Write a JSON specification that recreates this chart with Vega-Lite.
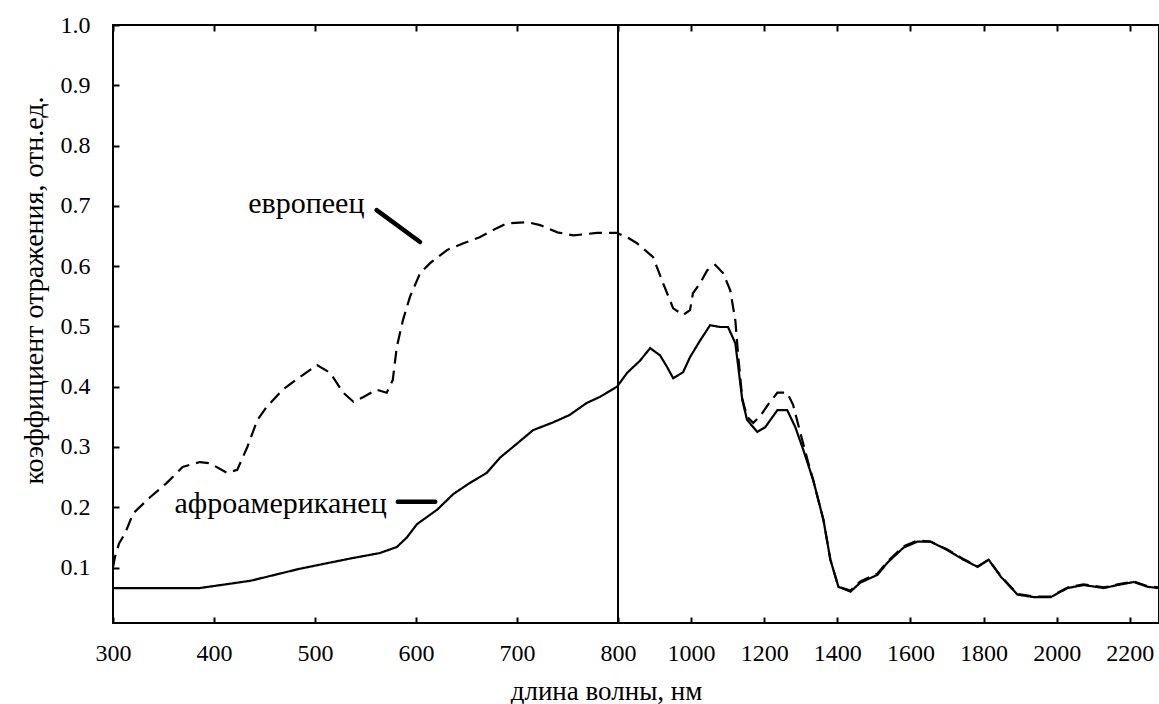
{
  "$schema": "https://vega.github.io/schema/vega-lite/v6.json",
  "width": 1046,
  "height": 598,
  "autosize": {"type": "none"},
  "padding": {"left": 113, "top": 25, "right": 0, "bottom": 81},
  "background": "white",
  "config": {
    "view": {"stroke": "black", "strokeWidth": 2},
    "axis": {
      "domain": false,
      "grid": false,
      "labelFont": "Liberation Serif",
      "labelFontSize": 24,
      "labelColor": "black",
      "labelFlush": false,
      "labelOverlap": false,
      "tickColor": "black",
      "tickWidth": 2,
      "tickSize": -6,
      "titleFont": "Liberation Serif",
      "titleFontWeight": "normal",
      "titleColor": "black"
    }
  },
  "datasets": {
    "curves": [
      {"wl": 300, "r": 0.10, "s": "европеец"},
      {"wl": 302, "r": 0.118, "s": "европеец"},
      {"wl": 306, "r": 0.14, "s": "европеец"},
      {"wl": 312, "r": 0.157, "s": "европеец"},
      {"wl": 320, "r": 0.19, "s": "европеец"},
      {"wl": 337, "r": 0.217, "s": "европеец"},
      {"wl": 353, "r": 0.24, "s": "европеец"},
      {"wl": 369, "r": 0.267, "s": "европеец"},
      {"wl": 386, "r": 0.275, "s": "европеец"},
      {"wl": 396, "r": 0.273, "s": "европеец"},
      {"wl": 413, "r": 0.257, "s": "европеец"},
      {"wl": 423, "r": 0.262, "s": "европеец"},
      {"wl": 433, "r": 0.30, "s": "европеец"},
      {"wl": 443, "r": 0.345, "s": "европеец"},
      {"wl": 452, "r": 0.366, "s": "европеец"},
      {"wl": 468, "r": 0.395, "s": "европеец"},
      {"wl": 485, "r": 0.416, "s": "европеец"},
      {"wl": 502, "r": 0.436, "s": "европеец"},
      {"wl": 515, "r": 0.423, "s": "европеец"},
      {"wl": 528, "r": 0.39, "s": "европеец"},
      {"wl": 538, "r": 0.375, "s": "европеец"},
      {"wl": 548, "r": 0.383, "s": "европеец"},
      {"wl": 561, "r": 0.395, "s": "европеец"},
      {"wl": 571, "r": 0.39, "s": "европеец"},
      {"wl": 577, "r": 0.411, "s": "европеец"},
      {"wl": 581, "r": 0.466, "s": "европеец"},
      {"wl": 587, "r": 0.51, "s": "европеец"},
      {"wl": 594, "r": 0.549, "s": "европеец"},
      {"wl": 604, "r": 0.588, "s": "европеец"},
      {"wl": 614, "r": 0.605, "s": "европеец"},
      {"wl": 631, "r": 0.627, "s": "европеец"},
      {"wl": 647, "r": 0.638, "s": "европеец"},
      {"wl": 663, "r": 0.648, "s": "европеец"},
      {"wl": 680, "r": 0.663, "s": "европеец"},
      {"wl": 690, "r": 0.671, "s": "европеец"},
      {"wl": 710, "r": 0.673, "s": "европеец"},
      {"wl": 723, "r": 0.668, "s": "европеец"},
      {"wl": 740, "r": 0.656, "s": "европеец"},
      {"wl": 756, "r": 0.651, "s": "европеец"},
      {"wl": 779, "r": 0.655, "s": "европеец"},
      {"wl": 799, "r": 0.655, "s": "европеец"},
      {"wl": 825, "r": 0.648, "s": "европеец"},
      {"wl": 852, "r": 0.638, "s": "европеец"},
      {"wl": 896, "r": 0.615, "s": "европеец"},
      {"wl": 923, "r": 0.572, "s": "европеец"},
      {"wl": 951, "r": 0.53, "s": "европеец"},
      {"wl": 978, "r": 0.519, "s": "европеец"},
      {"wl": 997, "r": 0.527, "s": "европеец"},
      {"wl": 1005, "r": 0.555, "s": "европеец"},
      {"wl": 1025, "r": 0.572, "s": "европеец"},
      {"wl": 1044, "r": 0.593, "s": "европеец"},
      {"wl": 1066, "r": 0.602, "s": "европеец"},
      {"wl": 1088, "r": 0.588, "s": "европеец"},
      {"wl": 1107, "r": 0.56, "s": "европеец"},
      {"wl": 1121, "r": 0.51, "s": "европеец"},
      {"wl": 1129, "r": 0.45, "s": "европеец"},
      {"wl": 1140, "r": 0.38, "s": "европеец"},
      {"wl": 1153, "r": 0.35, "s": "европеец"},
      {"wl": 1170, "r": 0.34, "s": "европеец"},
      {"wl": 1190, "r": 0.352, "s": "европеец"},
      {"wl": 1210, "r": 0.37, "s": "европеец"},
      {"wl": 1236, "r": 0.39, "s": "европеец"},
      {"wl": 1263, "r": 0.39, "s": "европеец"},
      {"wl": 1279, "r": 0.37, "s": "европеец"},
      {"wl": 1299, "r": 0.323, "s": "европеец"},
      {"wl": 1320, "r": 0.275, "s": "европеец"},
      {"wl": 1334, "r": 0.245, "s": "европеец"},
      {"wl": 1362, "r": 0.179, "s": "европеец"},
      {"wl": 1381, "r": 0.113, "s": "европеец"},
      {"wl": 1403, "r": 0.068, "s": "европеец"},
      {"wl": 1436, "r": 0.062, "s": "европеец"},
      {"wl": 1463, "r": 0.077, "s": "европеец"},
      {"wl": 1510, "r": 0.09, "s": "европеец"},
      {"wl": 1537, "r": 0.11, "s": "европеец"},
      {"wl": 1581, "r": 0.135, "s": "европеец"},
      {"wl": 1619, "r": 0.145, "s": "европеец"},
      {"wl": 1655, "r": 0.143, "s": "европеец"},
      {"wl": 1701, "r": 0.13, "s": "европеец"},
      {"wl": 1745, "r": 0.114, "s": "европеец"},
      {"wl": 1784, "r": 0.102, "s": "европеец"},
      {"wl": 1814, "r": 0.113, "s": "европеец"},
      {"wl": 1847, "r": 0.086, "s": "европеец"},
      {"wl": 1893, "r": 0.056, "s": "европеец"},
      {"wl": 1937, "r": 0.052, "s": "европеец"},
      {"wl": 1984, "r": 0.052, "s": "европеец"},
      {"wl": 2030, "r": 0.067, "s": "европеец"},
      {"wl": 2074, "r": 0.072, "s": "европеец"},
      {"wl": 2129, "r": 0.067, "s": "европеец"},
      {"wl": 2167, "r": 0.072, "s": "европеец"},
      {"wl": 2211, "r": 0.077, "s": "европеец"},
      {"wl": 2249, "r": 0.069, "s": "европеец"},
      {"wl": 2279, "r": 0.067, "s": "европеец"},
      {"wl": 300, "r": 0.066, "s": "афроамериканец"},
      {"wl": 386, "r": 0.066, "s": "афроамериканец"},
      {"wl": 436, "r": 0.078, "s": "афроамериканец"},
      {"wl": 485, "r": 0.098, "s": "афроамериканец"},
      {"wl": 535, "r": 0.115, "s": "афроамериканец"},
      {"wl": 564, "r": 0.124, "s": "афроамериканец"},
      {"wl": 581, "r": 0.134, "s": "афроамериканец"},
      {"wl": 591, "r": 0.15, "s": "афроамериканец"},
      {"wl": 601, "r": 0.172, "s": "афроамериканец"},
      {"wl": 621, "r": 0.196, "s": "афроамериканец"},
      {"wl": 637, "r": 0.222, "s": "афроамериканец"},
      {"wl": 653, "r": 0.24, "s": "афроамериканец"},
      {"wl": 670, "r": 0.257, "s": "афроамериканец"},
      {"wl": 683, "r": 0.282, "s": "афроамериканец"},
      {"wl": 696, "r": 0.30, "s": "афроамериканец"},
      {"wl": 716, "r": 0.328, "s": "афроамериканец"},
      {"wl": 736, "r": 0.341, "s": "афроамериканец"},
      {"wl": 752, "r": 0.353, "s": "афроамериканец"},
      {"wl": 769, "r": 0.373, "s": "афроамериканец"},
      {"wl": 782, "r": 0.383, "s": "афроамериканец"},
      {"wl": 799, "r": 0.40, "s": "афроамериканец"},
      {"wl": 825, "r": 0.423, "s": "афроамериканец"},
      {"wl": 860, "r": 0.443, "s": "афроамериканец"},
      {"wl": 888, "r": 0.464, "s": "афроамериканец"},
      {"wl": 915, "r": 0.452, "s": "афроамериканец"},
      {"wl": 934, "r": 0.433, "s": "афроамериканец"},
      {"wl": 951, "r": 0.414, "s": "афроамериканец"},
      {"wl": 978, "r": 0.424, "s": "афроамериканец"},
      {"wl": 997, "r": 0.449, "s": "афроамериканец"},
      {"wl": 1025, "r": 0.477, "s": "афроамериканец"},
      {"wl": 1052, "r": 0.502, "s": "афроамериканец"},
      {"wl": 1079, "r": 0.499, "s": "афроамериканец"},
      {"wl": 1101, "r": 0.499, "s": "афроамериканец"},
      {"wl": 1121, "r": 0.472, "s": "афроамериканец"},
      {"wl": 1129, "r": 0.433, "s": "афроамериканец"},
      {"wl": 1140, "r": 0.378, "s": "афроамериканец"},
      {"wl": 1153, "r": 0.345, "s": "афроамериканец"},
      {"wl": 1181, "r": 0.325, "s": "афроамериканец"},
      {"wl": 1203, "r": 0.333, "s": "афроамериканец"},
      {"wl": 1236, "r": 0.361, "s": "афроамериканец"},
      {"wl": 1263, "r": 0.361, "s": "афроамериканец"},
      {"wl": 1285, "r": 0.333, "s": "афроамериканец"},
      {"wl": 1307, "r": 0.295, "s": "афроамериканец"},
      {"wl": 1334, "r": 0.245, "s": "афроамериканец"},
      {"wl": 1362, "r": 0.179, "s": "афроамериканец"},
      {"wl": 1381, "r": 0.113, "s": "афроамериканец"},
      {"wl": 1403, "r": 0.068, "s": "афроамериканец"},
      {"wl": 1436, "r": 0.06, "s": "афроамериканец"},
      {"wl": 1463, "r": 0.075, "s": "афроамериканец"},
      {"wl": 1510, "r": 0.088, "s": "афроамериканец"},
      {"wl": 1537, "r": 0.108, "s": "афроамериканец"},
      {"wl": 1581, "r": 0.133, "s": "афроамериканец"},
      {"wl": 1619, "r": 0.143, "s": "афроамериканец"},
      {"wl": 1655, "r": 0.143, "s": "афроамериканец"},
      {"wl": 1701, "r": 0.129, "s": "афроамериканец"},
      {"wl": 1745, "r": 0.113, "s": "афроамериканец"},
      {"wl": 1784, "r": 0.101, "s": "афроамериканец"},
      {"wl": 1814, "r": 0.113, "s": "афроамериканец"},
      {"wl": 1847, "r": 0.085, "s": "афроамериканец"},
      {"wl": 1893, "r": 0.055, "s": "афроамериканец"},
      {"wl": 1937, "r": 0.051, "s": "афроамериканец"},
      {"wl": 1984, "r": 0.051, "s": "афроамериканец"},
      {"wl": 2030, "r": 0.066, "s": "афроамериканец"},
      {"wl": 2074, "r": 0.071, "s": "афроамериканец"},
      {"wl": 2129, "r": 0.066, "s": "афроамериканец"},
      {"wl": 2167, "r": 0.071, "s": "афроамериканец"},
      {"wl": 2211, "r": 0.076, "s": "афроамериканец"},
      {"wl": 2249, "r": 0.068, "s": "афроамериканец"},
      {"wl": 2279, "r": 0.066, "s": "афроамериканец"}
    ],
    "labels": [
      {"wl": 549, "r": 0.688, "label": "европеец"},
      {"wl": 571, "r": 0.191, "label": "афроамериканец"}
    ],
    "arrows": [
      {"wl": 561, "r": 0.693, "id": "e"},
      {"wl": 604, "r": 0.64, "id": "e"},
      {"wl": 582, "r": 0.209, "id": "a"},
      {"wl": 619, "r": 0.209, "id": "a"}
    ],
    "breakline": [
      {"wl": 800}
    ]
  },
  "resolve": {"axis": {"x": "independent"}},
  "layer": [
    {
      "data": {"name": "curves"},
      "mark": {"type": "line", "color": "black", "strokeWidth": 2.2, "interpolate": "linear"},
      "encoding": {
        "x": {
          "field": "wl", "type": "quantitative",
          "scale": {"type": "linear", "domain": [300, 800, 2280], "range": [0, 505, 1046], "nice": false, "zero": false},
          "axis": {
            "orient": "bottom",
            "values": [300, 400, 500, 600, 700, 800, 1000, 1200, 1400, 1600, 1800, 2000, 2200],
            "format": "d",
            "labelPadding": 24,
            "title": "длина волны, нм",
            "titleFontSize": 27,
            "titleX": 493,
            "titleY": 76,
            "titleAnchor": "middle",
            "titleAlign": "center",
            "titleBaseline": "alphabetic"
          }
        },
        "y": {
          "field": "r", "type": "quantitative",
          "scale": {"domain": [0.008, 1.0], "nice": false, "zero": false},
          "axis": {
            "values": [0.1, 0.2, 0.3, 0.4, 0.5, 0.6, 0.7, 0.8, 0.9, 1.0],
            "format": ".1f",
            "labelPadding": 29,
            "title": "коэффициент отражения, отн.ед.",
            "titleFontSize": 28,
            "titleAngle": -90,
            "titleX": -71,
            "titleY": 265,
            "titleAlign": "center",
            "titleBaseline": "alphabetic"
          }
        },
        "strokeDash": {
          "field": "s", "type": "nominal",
          "scale": {"domain": ["европеец", "афроамериканец"], "range": [[13, 7], [1, 0]]},
          "legend": null
        }
      }
    },
    {
      "data": {"name": "breakline"},
      "mark": {"type": "rule", "color": "black", "strokeWidth": 2},
      "encoding": {
        "x": {
          "field": "wl", "type": "quantitative",
          "axis": {
            "orient": "top",
            "values": [300, 400, 500, 600, 700, 800, 1000, 1200, 1400, 1600, 1800, 2000, 2200],
            "labels": false,
            "title": null
          }
        }
      }
    },
    {
      "data": {"name": "arrows"},
      "mark": {"type": "line", "color": "black", "strokeWidth": 4.5, "strokeCap": "round"},
      "encoding": {
        "x": {"field": "wl", "type": "quantitative", "axis": null},
        "y": {"field": "r", "type": "quantitative"},
        "detail": {"field": "id", "type": "nominal"}
      }
    },
    {
      "data": {"name": "labels"},
      "mark": {"type": "text", "align": "right", "baseline": "alphabetic", "font": "Liberation Serif", "fontSize": 30, "color": "black"},
      "encoding": {
        "x": {"field": "wl", "type": "quantitative", "axis": null},
        "y": {"field": "r", "type": "quantitative"},
        "text": {"field": "label", "type": "nominal"}
      }
    }
  ]
}
